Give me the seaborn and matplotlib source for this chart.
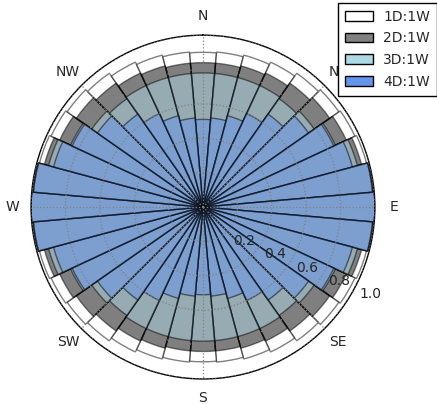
import numpy as np
import matplotlib
matplotlib.use("Agg")
import matplotlib.pyplot as plt
from matplotlib.patches import Patch
from matplotlib.transforms import ScaledTranslation
import seaborn as sns

# smjerovi (stupnjevi, od N u smjeru kazaljke)
smjerovi = list(range(0, 360, 10))

# relativne vrijednosti po smjeru, ocitane sa slike
d1 = [0.90, 0.905, 0.915, 0.93, 0.95, 0.965, 0.975, 0.985, 0.995,
      1.00, 0.995, 0.985, 0.975, 0.965, 0.95, 0.93, 0.915, 0.905,
      0.90, 0.905, 0.915, 0.93, 0.95, 0.965, 0.975, 0.985, 0.995,
      1.00, 0.995, 0.985, 0.975, 0.965, 0.95, 0.93, 0.915, 0.905]
d2 = [0.84, 0.84, 0.85, 0.86, 0.88, 0.90, 0.92, 0.955, 0.99,
      1.00, 0.99, 0.955, 0.92, 0.90, 0.88, 0.86, 0.85, 0.84,
      0.84, 0.84, 0.85, 0.86, 0.88, 0.90, 0.92, 0.955, 0.99,
      1.00, 0.99, 0.955, 0.92, 0.90, 0.88, 0.86, 0.85, 0.84]
d3 = [0.78, 0.78, 0.78, 0.78, 0.77, 0.79, 0.85, 0.93, 0.99,
      1.00, 0.99, 0.93, 0.85, 0.79, 0.77, 0.78, 0.78, 0.78,
      0.78, 0.78, 0.78, 0.78, 0.77, 0.79, 0.85, 0.93, 0.99,
      1.00, 0.99, 0.93, 0.85, 0.79, 0.77, 0.78, 0.78, 0.78]
d4 = [0.51, 0.52, 0.55, 0.60, 0.66, 0.75, 0.84, 0.90, 0.99,
      1.00, 0.99, 0.90, 0.84, 0.75, 0.66, 0.60, 0.55, 0.52,
      0.51, 0.52, 0.55, 0.60, 0.66, 0.75, 0.84, 0.90, 0.99,
      1.00, 0.99, 0.90, 0.84, 0.75, 0.66, 0.60, 0.55, 0.52]

oznake = ["1D:1W", "2D:1W", "3D:1W", "4D:1W"]
boje = ["white", "black", "lightblue", "cornflowerblue"]
boje_legenda = ["white", "gray", "lightblue", "cornflowerblue"]
smjer_oznake = ["N", "NE", "E", "SE", "S", "SW", "W", "NW"]

sns.set_theme(style="white")
plt.rcParams["font.family"] = ["DejaVu Sans"]

fig = plt.figure(figsize=(4.37, 4.04), dpi=100)
ax = fig.add_axes([0.071, 0.062, 0.787, 0.851], projection="polar")
ax.set_theta_zero_location("N")
ax.set_theta_direction(-1)

theta = np.deg2rad(smjerovi)
sirina = np.deg2rad(10)
for vrijednosti, boja in zip([d1, d2, d3, d4], boje):
    ax.bar(theta, vrijednosti, width=sirina, bottom=0.0, color=boja,
           edgecolor="black", linewidth=1.0, alpha=0.5)

ax.set_ylim(0, 1.0)
ax.set_yticks([0.2, 0.4, 0.6, 0.8, 1.0])
ax.set_yticklabels(["0.2", "0.4", "0.6", "0.8", "1.0"], fontsize=10)
ax.set_rlabel_position(112.5)
ax.set_xticks(np.deg2rad(np.arange(0, 360, 45)))
ax.set_xticklabels(smjer_oznake, fontsize=10)
ax.tick_params(axis="x", pad=0.5)
ax.set_axisbelow(False)
ax.grid(True, linestyle=":", color="gray", linewidth=0.9)
ax.spines["polar"].set_color("black")
ax.spines["polar"].set_linewidth(1.0)

# radijalne oznake malo nize, kao na originalu
pomak = ScaledTranslation(-0.02, -0.28, fig.dpi_scale_trans)
for lab in ax.yaxis.get_ticklabels():
    lab.set_transform(lab.get_transform() + pomak)

rucke = [Patch(facecolor=b, edgecolor="black", label=o)
         for b, o in zip(boje_legenda, oznake)]
leg = fig.legend(handles=rucke, loc="upper right", bbox_to_anchor=(1.0, 0.993),
                 bbox_transform=fig.transFigure, fontsize=10, fancybox=False,
                 framealpha=1, edgecolor="black", borderaxespad=0,
                 borderpad=0.5, labelspacing=0.55, handletextpad=0.75)
leg.get_frame().set_linewidth(1.0)

fig.savefig("out.png", dpi=100)
